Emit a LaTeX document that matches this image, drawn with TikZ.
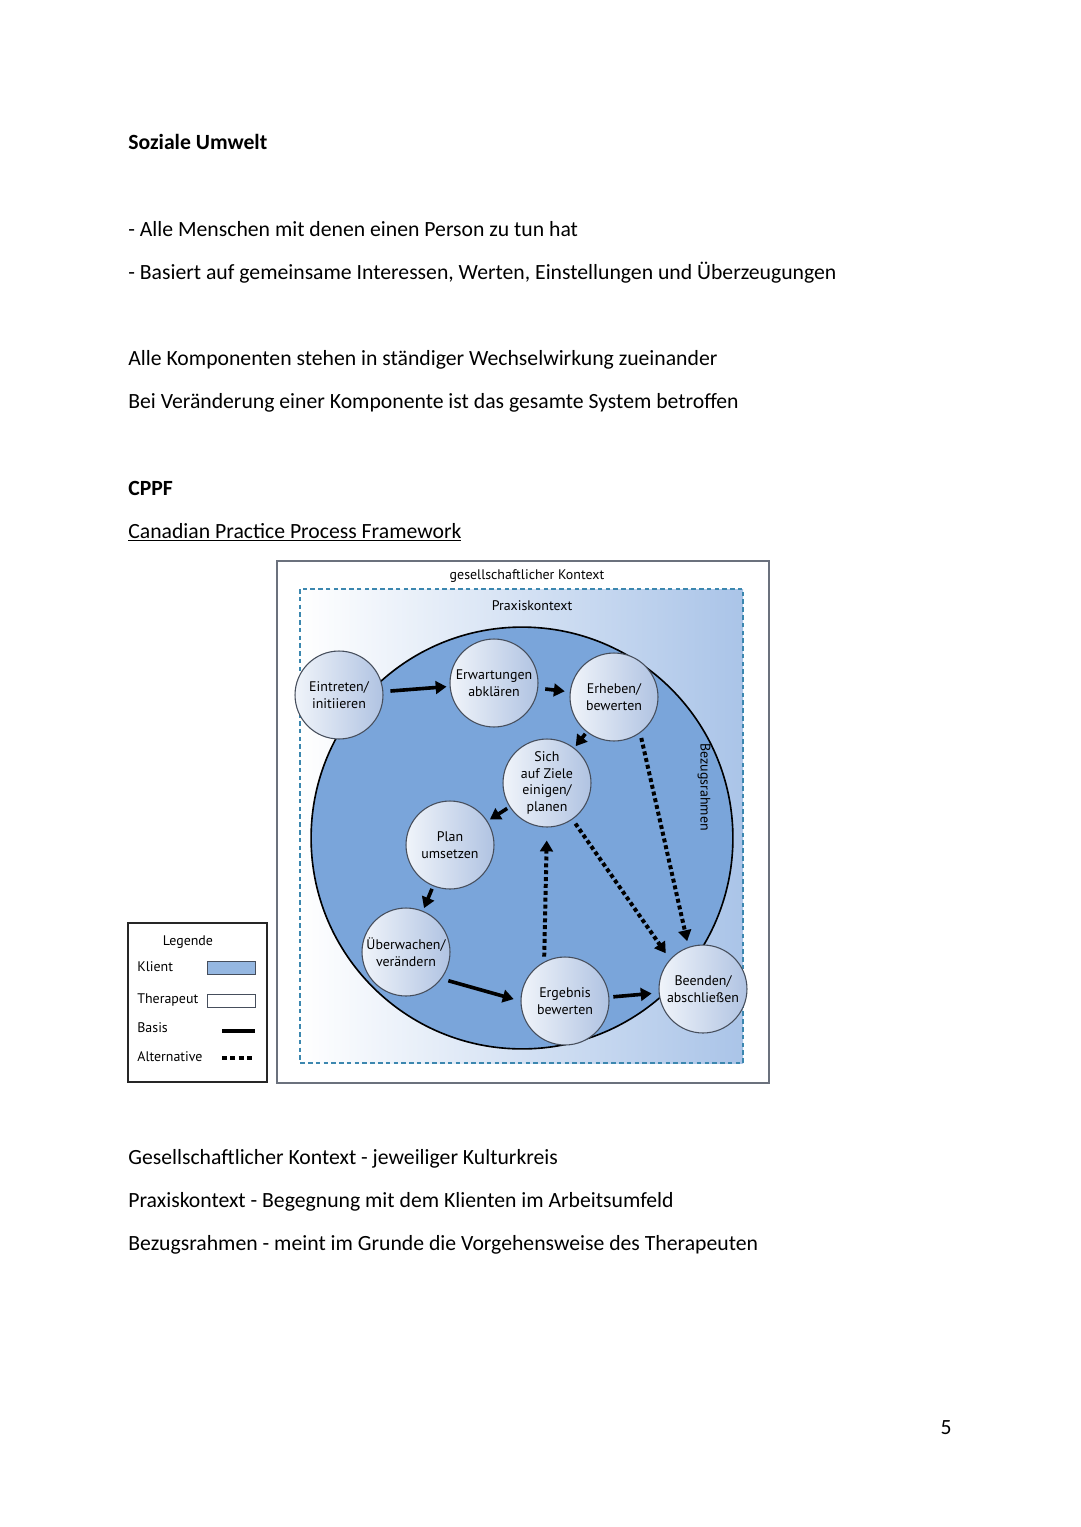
\documentclass[tikz,border=0pt]{standalone}
\usepackage{fontspec}
\setmainfont{Carlito}
\newfontfamily\diafont{PT Sans}
\usetikzlibrary{arrows.meta,shapes,calc,positioning}
\definecolor{klientblue}{RGB}{122,165,218}
\definecolor{praxblue}{RGB}{170,196,232}
\definecolor{dashteal}{RGB}{60,135,175}
\definecolor{rimgray}{RGB}{70,78,92}
\definecolor{phaseleft}{RGB}{240,244,250}
\definecolor{phaseright}{RGB}{176,195,226}
\def\dia{\diafont\fontsize{7.7}{9.2}\selectfont}
\tikzstyle{textline} = [anchor=base west, inner sep=0pt, font=\fontsize{12}{14}\selectfont]
\tikzstyle{phase} = [circle, draw=rimgray, line width=0.6pt, minimum size=1.71cm, inner sep=0pt, align=center, font=\dia, left color=phaseleft, right color=phaseright]
\tikzstyle{legtext} = [anchor=west, inner sep=0pt, font=\dia]
\tikzstyle{basis} = [line width=2pt, -{Triangle[length=6pt,width=7pt]}]
\tikzstyle{alt} = [line width=2.2pt, dash pattern=on 2.2pt off 1.6pt, -{Triangle[length=6pt,width=7pt]}]

\begin{document}
\begin{tikzpicture}[x=0.019444cm,y=-0.019444cm]
      \useasboundingbox (0,0) rectangle (1080,1527);
      % page text
      \node[textline] (t1) at (128,149) {\bfseries Soziale Umwelt};
      \node[textline] (t2) at (128,236) {- Alle Menschen mit denen einen Person zu tun hat};
      \node[textline] (t3) at (128,279) {- Basiert auf gemeinsame Interessen, Werten, Einstellungen und Überzeugungen};
      \node[textline] (t4) at (128,365) {Alle Komponenten stehen in ständiger Wechselwirkung zueinander};
      \node[textline] (t5) at (128,408) {Bei Veränderung einer Komponente ist das gesamte System betroffen};
      \node[textline] (t6) at (128,495) {\bfseries CPPF};
      \node[textline] (t7) at (128,538) {\underline{Canadian Practice Process Framework}};
      \node[textline] (t8) at (128,1164) {Gesellschaftlicher Kontext - jeweiliger Kulturkreis};
      \node[textline] (t9) at (128,1207) {Praxiskontext - Begegnung mit dem Klienten im Arbeitsumfeld};
      \node[textline] (t10) at (128,1250) {Bezugsrahmen - meint im Grunde die Vorgehensweise des Therapeuten};
      \node[anchor=base, inner sep=0pt, font=\fontsize{12}{14}\selectfont] (pnum) at (946,1434) {5};
      % diagram
      \draw[rimgray!80, line width=0.9pt] (277,561) rectangle (769,1083);
      \node[font=\dia] (gk) at (527,576) {gesellschaftlicher Kontext};
      \draw[dashteal, line width=0.8pt, dash pattern=on 2.5pt off 1.8pt, left color=white, right color=praxblue] (300,589) rectangle (743,1063);
      \node[font=\dia] (pk) at (532,606) {Praxiskontext};
      \node[circle, draw=black, line width=0.9pt, fill=klientblue, minimum size=8.2cm] (klient) at (522,838) {};
      \node[font=\dia, rotate=-90] (bz) at (704,787) {Bezugsrahmen};
      \node[phase] (ein) at (339,695) {Eintreten/\\initiieren};
      \node[phase] (erw) at (494,683) {Erwartungen\\abklären};
      \node[phase] (erh) at (614,697) {Erheben/\\bewerten};
      \node[phase] (sich) at (547,783) {Sich\\auf Ziele\\einigen/\\planen};
      \node[phase] (plan) at (450,845) {Plan\\umsetzen};
      \node[phase] (ueb) at (406,952) {Überwachen/\\verändern};
      \node[phase] (erg) at (565,1001) {Ergebnis\\bewerten};
      \node[phase] (been) at (703,989) {Beenden/\\abschließen};
      \draw[basis, shorten <=3.9pt, shorten >=1.7pt] (ein) -- (erw);
      \draw[basis, shorten <=3.9pt, shorten >=2.8pt] (erw) -- (erh);
      \draw[basis, shorten <=1.2pt, shorten >=1.2pt] (erh) -- (sich);
      \draw[basis, shorten <=1.5pt, shorten >=1.5pt] (sich) -- (plan);
      \draw[basis, shorten <=1.6pt, shorten >=1.6pt] (plan) -- (ueb);
      \draw[basis, shorten <=3.9pt, shorten >=3.9pt] (ueb.-37) -- (erg.180);
      \draw[basis, shorten <=2.2pt, shorten >=3.9pt] (erg) -- (been);
      \draw[alt, shorten <=2.8pt, shorten >=7.2pt] (erg.118) -- (sich.south);
      \draw[alt, shorten <=2.8pt, shorten >=4pt] (sich.-55) -- (been.138);
      \draw[alt, shorten <=2.8pt, shorten >=3.3pt] (erh.-54) -- (been.109);
      % legend
      \draw[black!85, line width=1pt] (128,923) rectangle (267,1082);
      \node[font=\dia] (leg) at (188,942) {Legende};
      \node[legtext] (kl) at (137,967) {Klient};
      \draw[rimgray, line width=0.5pt, fill=klientblue!80] (207,961) rectangle (255,974);
      \node[legtext] (th) at (137,1000) {Therapeut};
      \draw[rimgray, line width=0.5pt, fill=white] (207,994) rectangle (255,1007);
      \node[legtext] (ba) at (137,1028) {Basis};
      \draw[line width=2pt] (222,1031) -- (255,1031);
      \node[legtext] (al) at (137,1057) {Alternative};
      \draw[line width=2pt, dash pattern=on 2.8pt off 1.8pt] (222,1058) -- (253,1058);
      %\draw[red] (0,0) grid[step=100] (1080,1527);
\end{tikzpicture}
\end{document}
